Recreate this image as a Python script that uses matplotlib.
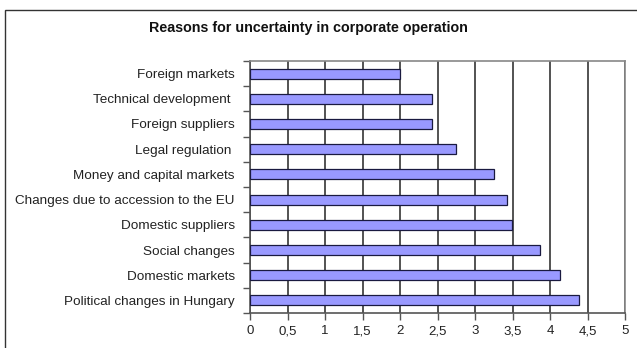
import matplotlib
matplotlib.use("Agg")
import matplotlib.pyplot as plt
from matplotlib.patches import Rectangle

plt.rcParams["font.family"] = ["Liberation Sans", "DejaVu Sans"]

# Survey results (mean scores), top to bottom as listed
reasons = [
    "Foreign markets",
    "Technical development ",
    "Foreign suppliers",
    "Legal regulation ",
    "Money and capital markets",
    "Changes due to accession to the EU",
    "Domestic suppliers",
    "Social changes",
    "Domestic markets",
    "Political changes in Hungary",
]
scores = [2.0, 2.43, 2.43, 2.75, 3.25, 3.43, 3.49, 3.87, 4.13, 4.39]
x_ticks = [0, 0.5, 1, 1.5, 2, 2.5, 3, 3.5, 4, 4.5, 5]
x_labels = ["0", "0,5", "1", "1,5", "2", "2,5", "3", "3,5", "4", "4,5", "5"]

W, H = 637, 348
fig = plt.figure(figsize=(W / 100, H / 100), dpi=100)
fig.patch.set_facecolor("white")

# outer chart frame
fig.patches.append(Rectangle((5 / W, -0.05), 1.2, 1 - 10 / H + 0.05,
                             transform=fig.transFigure, fill=False,
                             edgecolor="#333333", linewidth=1.0))

ax = fig.add_axes([250 / W, 1 - 313 / H, 375 / W, 252 / H])

ypos = list(range(len(reasons)))[::-1]
ax.barh(ypos, scores, height=0.4, color="#9999ff",
        edgecolor="#1a1a40", linewidth=0.9, zorder=3)

ax.set_xlim(0, 5)
ax.set_ylim(-0.5, len(reasons) - 0.5)

ax.set_xticks(x_ticks)
ax.set_xticklabels(x_labels, fontsize=9.5, color="#222222")
ax.xaxis.grid(True, color="#444444", linewidth=1.3, zorder=0)

# category labels sit between the boundary ticks
ax.set_yticks([y - 0.5 for y in range(len(reasons) + 1)])
ax.set_yticklabels([])
ax.set_yticks(ypos, minor=True)
ax.set_yticklabels(reasons, minor=True, fontsize=9.7, color="#222222")
ax.tick_params(axis="y", which="minor", length=0, pad=11)
ax.tick_params(axis="y", which="major", length=5, width=1, color="#555555")
ax.tick_params(axis="x", length=5, width=1, color="#555555", pad=4)

for side in ("top", "right"):
    ax.spines[side].set_color("#888888")
    ax.spines[side].set_linewidth(1.2)
for side in ("left", "bottom"):
    ax.spines[side].set_color("#555555")
    ax.spines[side].set_linewidth(1.2)

fig.text(308 / W, 1 - 28 / H, "Reasons for uncertainty in corporate operation",
         ha="center", va="center", fontsize=10.3, fontweight="bold",
         color="#111111")

fig.savefig("out.png", dpi=100)
